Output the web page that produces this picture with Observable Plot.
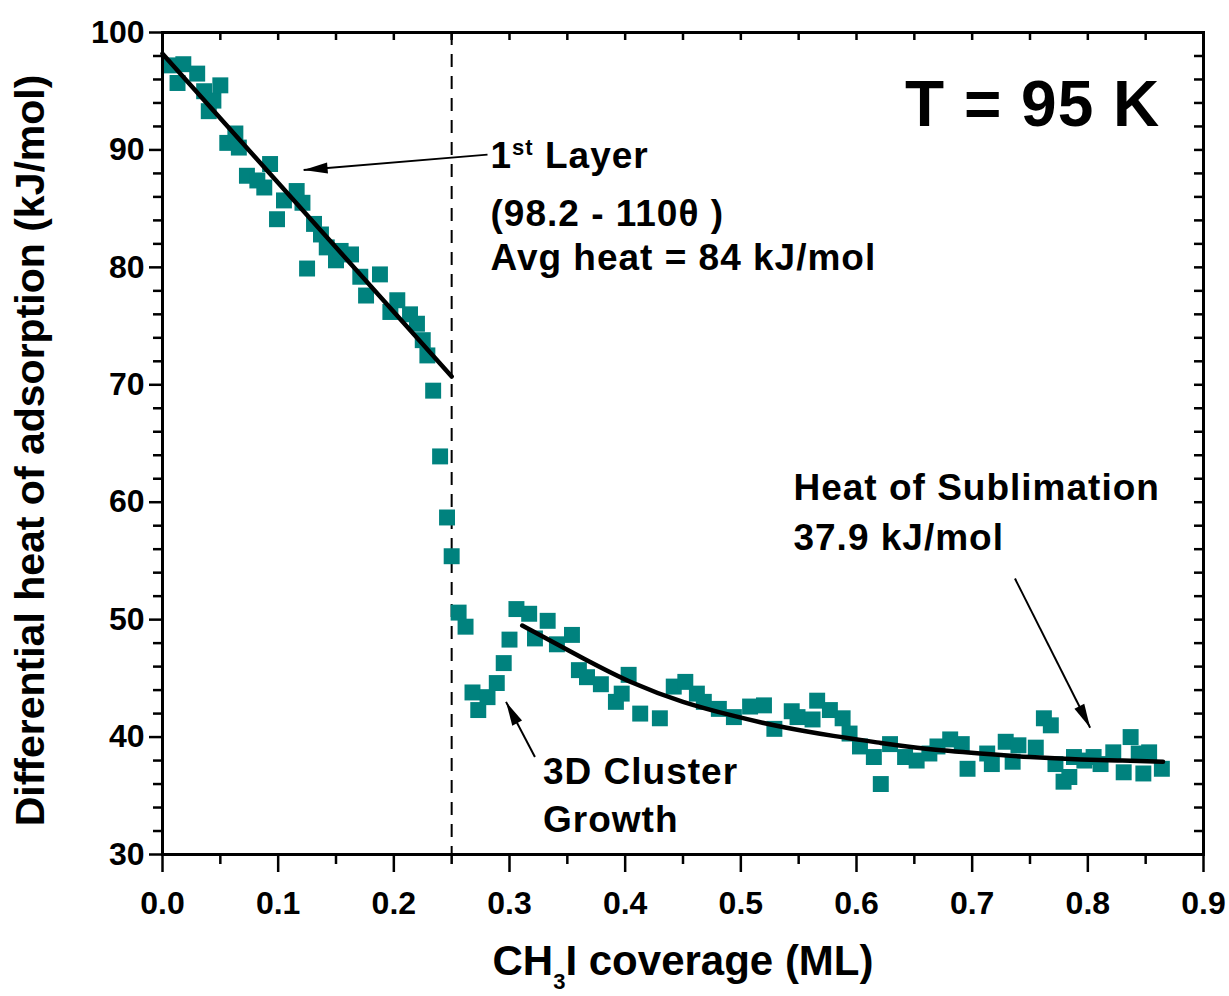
<!DOCTYPE html>
<html><head><meta charset="utf-8">
<script src="https://cdn.jsdelivr.net/npm/d3@7"></script>
<script src="https://cdn.jsdelivr.net/npm/@observablehq/plot@0.6"></script>
<style>body{margin:0;background:#fff}</style>
</head><body><div id="chart"></div>
<script>
// Measured points: coverage (ML) and differential heat (kJ/mol)
const coverage = [0.006,0.013,0.018,0.030,0.036,0.040,0.044,0.050,0.056,0.063,0.066,0.073,0.082,0.088,0.093,0.099,0.105,0.116,0.121,0.125,0.131,0.137,0.142,0.150,0.154,0.163,0.171,0.176,0.188,0.197,0.203,0.214,0.220,0.225,0.229,0.234,0.240,0.246,0.250,0.256,0.262,0.268,0.273,0.281,0.289,0.295,0.300,0.306,0.317,0.322,0.333,0.341,0.354,0.360,0.367,0.379,0.392,0.397,0.403,0.413,0.430,0.442,0.452,0.462,0.468,0.481,0.494,0.508,0.520,0.529,0.544,0.549,0.562,0.566,0.577,0.588,0.594,0.603,0.615,0.621,0.629,0.642,0.652,0.663,0.670,0.681,0.691,0.696,0.713,0.717,0.729,0.735,0.740,0.755,0.762,0.768,0.772,0.779,0.784,0.788,0.797,0.805,0.811,0.822,0.831,0.837,0.844,0.848,0.853,0.864];
const heat = [97.2,95.7,97.3,96.5,95.0,93.3,94.2,95.5,90.6,91.4,90.2,87.8,87.4,86.8,88.8,84.1,85.7,86.5,85.5,79.9,83.7,82.8,81.7,80.6,81.4,81.1,79.2,77.6,79.4,76.2,77.2,76.0,75.2,73.8,72.5,69.5,63.9,58.7,55.4,50.6,49.4,43.8,42.3,43.4,44.6,46.3,48.3,50.9,50.5,48.4,49.9,47.9,48.7,45.7,45.1,44.5,43.0,43.7,45.3,42.0,41.6,44.3,44.7,43.7,43.0,42.4,41.7,42.6,42.7,40.7,42.2,41.7,41.5,43.1,42.3,41.6,40.3,39.2,38.3,36.0,39.4,38.3,38.0,38.6,39.2,39.8,39.4,37.3,38.6,37.7,39.6,37.9,39.3,39.1,41.6,41.0,37.7,36.2,36.6,38.3,38.0,38.3,37.7,38.7,37.0,40.0,38.6,36.9,38.7,37.3];

// Fit 1 (first layer, 98.2 - 110θ)
const fit1X = [0, 0.25];
const fit1Y = [98.2, 70.7];
// Fit 2 (towards heat of sublimation)
const fit2X = [0.311,0.364,0.407,0.450,0.494,0.534,0.580,0.621,0.660,0.707,0.750,0.794,0.830,0.865];
const fit2Y = [49.5,46.7,44.6,43.0,41.8,40.9,40.1,39.5,39.0,38.6,38.3,38.1,38.0,37.9];

// Axis ticks
const xMajor = [0,0.1,0.2,0.3,0.4,0.5,0.6,0.7,0.8,0.9];
const xMinor = [0.05,0.15,0.25,0.35,0.45,0.55,0.65,0.75,0.85];
const xTop = [0.05,0.1,0.15,0.2,0.25,0.3,0.35,0.4,0.45,0.5,0.55,0.6,0.65,0.7,0.75,0.8,0.85];
const yMajor = [30,40,50,60,70,80,90,100];
const yMinor = [32,34,36,38,42,44,46,48,52,54,56,58,62,64,66,68,72,74,76,78,82,84,86,88,92,94,96,98];
const yRight = [32,34,36,38,40,42,44,46,48,50,52,54,56,58,60,62,64,66,68,70,72,74,76,78,80,82,84,86,88,90,92,94,96,98];

// Annotations
const arrowFrom = [[0.281,89.6],[0.737,53.5],[0.322,38.3]];
const arrowTo   = [[0.122,88.3],[0.802,40.8],[0.297,43.0]];
const noteText = ["1st Layer","(98.2 - 110θ )","Avg heat = 84 kJ/mol","Heat of Sublimation","37.9 kJ/mol","3D Cluster","Growth"];
const noteX = [0.2836,0.2836,0.2836,0.5455,0.5455,0.329,0.329];
const noteY = [89.5,84.55,80.8,61.2,56.9,37.0,32.9];

const W = 1229, H = 996;
const mL = 162, mR = 26, mT = 32, mB = 142;
const pw = W - mL - mR, ph = H - mT - mB;
const xDom = [0, 0.9], yDom = [30, 100];
const kx = pw / (xDom[1] - xDom[0]), ky = ph / (yDom[1] - yDom[0]);

const points = coverage.map((x,i)=>({x, y: heat[i]}));
const fit1 = fit1X.map((x,i)=>({x, y: fit1Y[i]}));
const fit2 = fit2X.map((x,i)=>({x, y: fit2Y[i]}));
const arrows = arrowFrom.map((a,i)=>{
  const x2 = arrowTo[i][0], y2 = arrowTo[i][1];
  const ang = Math.atan2(-(y2 - a[1]) * ky, (x2 - a[0]) * kx) * 180 / Math.PI;
  return {x1:a[0], y1:a[1], x2, y2, ang};
});
const notes = noteText.map((t,i)=>({t, x: noteX[i], y: noteY[i]}));

// filled, slender arrowhead with its tip at the origin, pointing along +x
const headSymbol = {draw(ctx) { ctx.moveTo(0,0); ctx.lineTo(-24,-5.5); ctx.lineTo(-24,5.5); ctx.closePath(); }};

const chart = Plot.plot({
  width: W, height: H,
  marginLeft: mL, marginRight: mR, marginTop: mT, marginBottom: mB,
  style: {fontFamily: "'Liberation Sans', Arial, sans-serif", fontWeight: "bold", color: "#000", background: "#fff"},
  x: {domain: xDom, label: null},
  y: {domain: yDom, label: null},
  marks: [
    Plot.ruleX([0.25], {strokeDasharray: "13,9", strokeWidth: 2}),
    Plot.dot(points, {x: "x", y: "y", symbol: "square", r: 9, fill: "#00827E", stroke: "none"}),
    Plot.line(fit1, {x: "x", y: "y", strokeWidth: 4.5, stroke: "#000"}),
    Plot.line(fit2, {x: "x", y: "y", strokeWidth: 4.5, stroke: "#000", curve: "natural"}),
    Plot.link(arrows, {x1: "x1", y1: "y1", x2: "x2", y2: "y2", strokeWidth: 2, stroke: "#000"}),
    Plot.dot(arrows, {x: "x2", y: "y2", rotate: "ang", symbol: headSymbol, fill: "#000", stroke: "none"}),
    Plot.text(notes, {x: "x", y: "y", text: "t", textAnchor: "start", fontSize: 37, fill: "#000"}),
    Plot.text(["T = 95 K"], {x: 0.642, y: 93.8, text: d=>d, textAnchor: "start", fontSize: 64, fill: "#000"}),
    Plot.axisX({ticks: xMajor, tickSize: 18, tickPadding: 19, tickFormat: d3.format(".1f"), fontSize: 32, strokeWidth: 2.5, label: null}),
    Plot.axisX({ticks: xMinor, tickSize: 10, tickFormat: () => "", strokeWidth: 2.5, label: null}),
    Plot.axisY({ticks: yMajor, tickSize: 13, tickPadding: 5, fontSize: 32, strokeWidth: 2.5, label: null}),
    Plot.axisY({ticks: yMinor, tickSize: 9, tickFormat: () => "", strokeWidth: 2.5, label: null}),
    Plot.tickX(xTop, {x: d=>d, insetBottom: ph - 8, strokeWidth: 2.5}),
    Plot.tickY(yRight, {y: d=>d, insetLeft: pw - 9, strokeWidth: 2.5}),
    Plot.frame({strokeWidth: 3, stroke: "#000"}),
    Plot.text(["Differential heat of adsorption (kJ/mol)"], {frameAnchor: "left", textAnchor: "middle", rotate: -90, dx: -132, dy: 7, text: d=>d, fontSize: 41, fill: "#000"}),
    Plot.text(["CH3I coverage (ML)"], {frameAnchor: "bottom", dy: 120, text: d=>d, fontSize: 42, fill: "#000"})
  ]
});
document.getElementById("chart").appendChild(chart);

// rich text: superscript and subscript, slightly wider letter spacing of the notes
const NS = "http://www.w3.org/2000/svg";
function rebuild(t, parts) {
  while (t.firstChild) t.removeChild(t.firstChild);
  parts.forEach(p => {
    const s = document.createElementNS(NS, "tspan");
    s.textContent = p.s;
    if (p.dy) s.setAttribute("dy", p.dy);
    if (p.fs) s.setAttribute("font-size", p.fs);
    t.appendChild(s);
  });
}
chart.querySelectorAll("text").forEach(t => {
  const c = t.textContent;
  if (noteText.includes(c)) t.style.letterSpacing = "1px";
  if (c === "T = 95 K") t.style.letterSpacing = "1px";
  if (c === "1st Layer") rebuild(t, [{s:"1"},{s:"st", dy:-13, fs:22},{s:" Layer", dy:13}]);
  else if (c === "CH3I coverage (ML)") rebuild(t, [{s:"CH"},{s:"3", dy:14, fs:22},{s:"I coverage (ML)", dy:-14}]);
});
</script>
</body></html>
